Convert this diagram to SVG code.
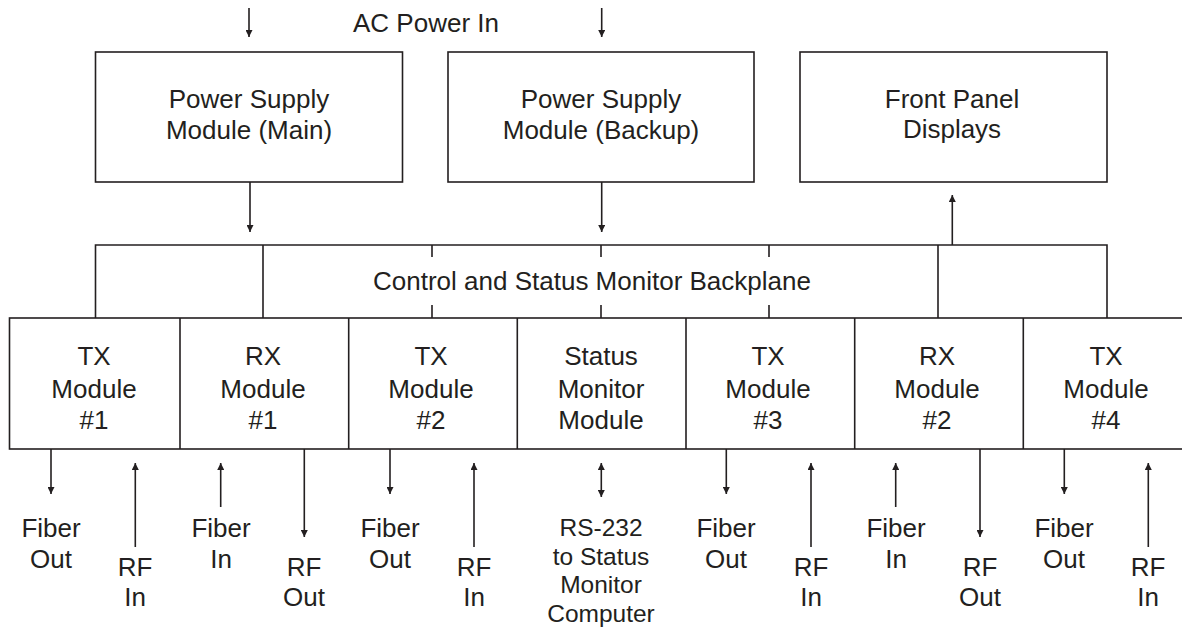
<svg xmlns="http://www.w3.org/2000/svg" width="1182" height="628" viewBox="0 0 1182 628">
<style>
text{font-family:"Liberation Sans",Arial,sans-serif;font-size:26px;fill:#231f20;text-anchor:middle}
text.rs{font-size:24.5px}
.box{fill:none;stroke:#231f20;stroke-width:1.6}
.ln{fill:none;stroke:#231f20;stroke-width:1.6}
.ar{fill:none;stroke:#231f20;stroke-width:1.6;marker-end:url(#ah)}
.ar2{fill:none;stroke:#231f20;stroke-width:1.6;marker-end:url(#ah);marker-start:url(#ahs)}
</style>
<defs>
<marker id="ah" markerUnits="userSpaceOnUse" markerWidth="8" markerHeight="7" refX="7" refY="3.5" orient="auto"><path d="M0,0 L7,3.5 L0,7 z" fill="#231f20"/></marker>
<marker id="ahs" markerUnits="userSpaceOnUse" markerWidth="8" markerHeight="7" refX="0" refY="3.5" orient="auto"><path d="M7,0 L0,3.5 L7,7 z" fill="#231f20"/></marker>
</defs>
<rect width="1182" height="628" fill="#fff"/>

<g id="ac-power-label"><text x="426" y="32">AC Power In</text></g>

<g id="psu-main"><rect class="box" x="95.5" y="52" width="307" height="130"/><text x="249" y="108">Power Supply</text><text x="249" y="139">Module (Main)</text></g>
<g id="psu-backup"><rect class="box" x="448" y="52" width="306" height="130"/><text x="601" y="108">Power Supply</text><text x="601" y="139">Module (Backup)</text></g>
<g id="front-panel"><rect class="box" x="800" y="52" width="307" height="130"/><text x="952" y="108">Front Panel</text><text x="952" y="138">Displays</text></g>

<g id="backplane">
<path class="ln" d="M95.5,318 V245 H1107 V318 M263,245 V318 M938,245 V318 M432,245 V257 M432,305 V318 M601,245 V257 M601,305 V318 M769,245 V257 M769,305 V318"/>
<text x="592" y="290">Control and Status Monitor Backplane</text>
</g>

<g id="modules">
<rect class="box" x="9.5" y="318" width="1190" height="131"/>
<path class="ln" d="M180,318 V449 M348.7,318 V449 M517.3,318 V449 M686,318 V449 M854.7,318 V449 M1023.3,318 V449"/>
</g>
<g id="tx1"><text x="94" y="365">TX</text><text x="94" y="398">Module</text><text x="94" y="429">#1</text></g>
<g id="rx1"><text x="263" y="365">RX</text><text x="263" y="398">Module</text><text x="263" y="429">#1</text></g>
<g id="tx2"><text x="431" y="365">TX</text><text x="431" y="398">Module</text><text x="431" y="429">#2</text></g>
<g id="status"><text x="601" y="365">Status</text><text x="601" y="398">Monitor</text><text x="601" y="429">Module</text></g>
<g id="tx3"><text x="768" y="365">TX</text><text x="768" y="398">Module</text><text x="768" y="429">#3</text></g>
<g id="rx2"><text x="937" y="365">RX</text><text x="937" y="398">Module</text><text x="937" y="429">#2</text></g>
<g id="tx4"><text x="1106" y="365">TX</text><text x="1106" y="398">Module</text><text x="1106" y="429">#4</text></g>

<g id="connectors">
<path class="ar" d="M249,8 V37"/>
<path class="ar" d="M601.7,8 V37"/>
<path class="ar" d="M250,182 V232"/>
<path class="ar" d="M601.7,182 V232"/>
<path class="ar" d="M952.3,245 V195"/>
<path class="ar" d="M51,449 V494"/>
<path class="ar" d="M135.3,547 V463"/>
<path class="ar" d="M220.7,507 V463"/>
<path class="ar" d="M304.3,449 V537"/>
<path class="ar" d="M390,449 V494"/>
<path class="ar" d="M474,547 V463"/>
<path class="ar2" d="M601.3,463 V497"/>
<path class="ar" d="M726.3,449 V494"/>
<path class="ar" d="M811,547 V463"/>
<path class="ar" d="M895.7,507 V463"/>
<path class="ar" d="M980,449 V537"/>
<path class="ar" d="M1064.3,449 V494"/>
<path class="ar" d="M1148.3,547 V463"/>
</g>

<g id="io-labels">
<text x="51" y="537">Fiber</text><text x="51" y="568">Out</text>
<text x="135" y="576">RF</text><text x="135" y="606">In</text>
<text x="221" y="537">Fiber</text><text x="221" y="568">In</text>
<text x="304" y="576">RF</text><text x="304" y="606">Out</text>
<text x="390" y="537">Fiber</text><text x="390" y="568">Out</text>
<text x="474" y="576">RF</text><text x="474" y="606">In</text>
<text class="rs" x="601" y="536">RS-232</text><text class="rs" x="601" y="564.5">to Status</text><text class="rs" x="601" y="593">Monitor</text><text class="rs" x="601" y="621.5">Computer</text>
<text x="726" y="537">Fiber</text><text x="726" y="568">Out</text>
<text x="811" y="576">RF</text><text x="811" y="606">In</text>
<text x="896" y="537">Fiber</text><text x="896" y="568">In</text>
<text x="980" y="576">RF</text><text x="980" y="606">Out</text>
<text x="1064" y="537">Fiber</text><text x="1064" y="568">Out</text>
<text x="1148" y="576">RF</text><text x="1148" y="606">In</text>
</g>
</svg>
